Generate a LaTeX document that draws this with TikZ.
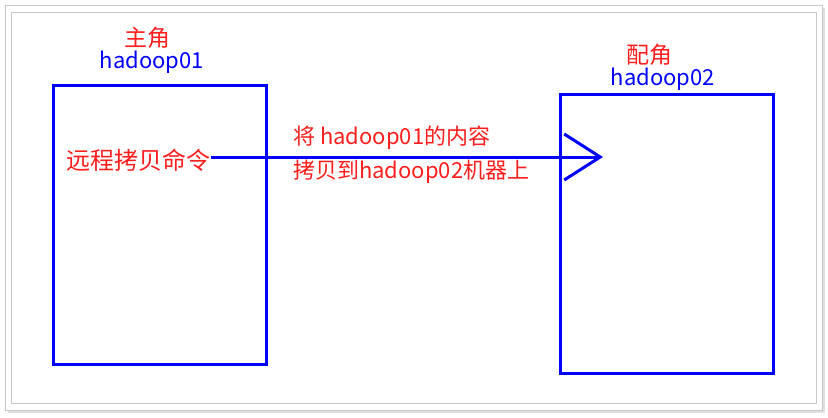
\documentclass[tikz,border=0pt]{standalone}
\usepackage{fontspec}
\setmainfont{Noto Sans CJK SC}
\usepackage{xcolor}
\usetikzlibrary{positioning, arrows.meta}
\definecolor{labelred}{RGB}{255,30,30}
\definecolor{hostblue}{RGB}{0,0,255}
\definecolor{framegray}{RGB}{200,200,200}

\begin{document}
\begin{tikzpicture}[x=1pt, y=-1pt, node distance=24pt, on grid,
    role/.style={text=labelred, font=\fontsize{23}{23}\selectfont, inner sep=0pt},
    host/.style={text=hostblue, font=\fontsize{22}{22}\selectfont, inner sep=0pt},
    machine/.style={draw=hostblue, line width=3pt, minimum width=213pt, minimum height=279pt, inner sep=0pt},
    copyline/.style={draw=hostblue, line width=3pt, -{Straight Barb[length=36pt, width=46pt, line width=3pt]}}]

  % outer frame
  \useasboundingbox (0,0) rectangle (828,418);
  \fill[black!12] (8,8) rectangle (825,413);
  \draw[framegray, fill=white] (5,5) rectangle (822,410);
  \draw[framegray] (11,12) rectangle (816,403);

  \node[machine] (master) at (160,225) {};
  \node[machine] (slave) at (666.5,234) {};

  \node[role] (role1) at (147,38) {主角};
  \node[host] (host1) [below=of role1, xshift=5pt] {hadoop01};
  \node[role] (role2) at (649,55) {配角};
  \node[host] (host2) [below=of role2, xshift=14pt] {hadoop02};

  \node[role, font=\fontsize{24}{24}\selectfont, anchor=east] (cmd) at (211,160) {远程拷贝命令};
  \coordinate (tip) at (603,157);

  \draw[copyline] (cmd.east |- tip) -- (tip);

  \node[role, anchor=west, align=left, font=\fontsize{22}{34}\selectfont] (msg) at (293,155)
    {将 hadoop01的内容\\拷贝到hadoop02机器上};

\end{tikzpicture}
\end{document}
